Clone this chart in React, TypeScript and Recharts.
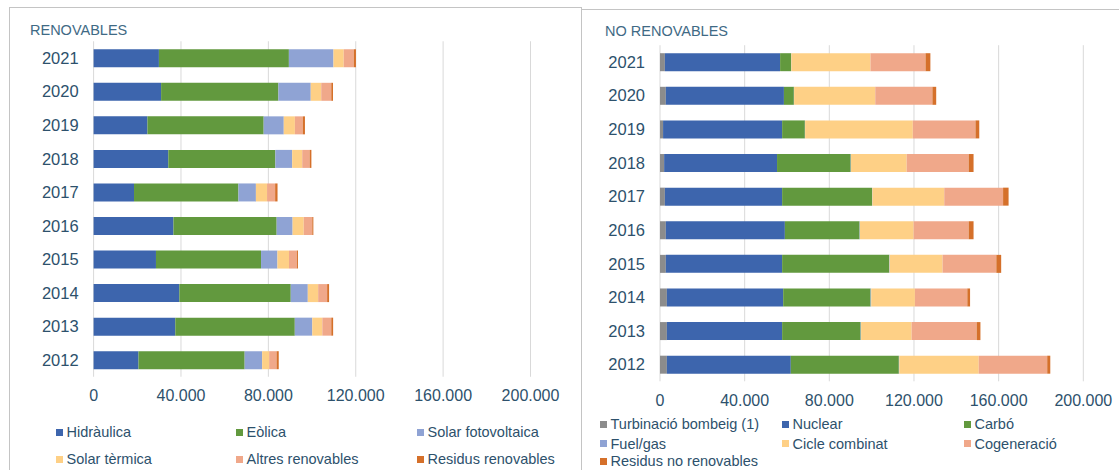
import { BarChart, Bar, XAxis, YAxis, CartesianGrid } from 'recharts';

// anys, de dalt a baix com al gràfic
const years = ['2021', '2020', '2019', '2018', '2017', '2016', '2015', '2014', '2013', '2012'];
const xTicks = [0, 40000, 80000, 120000, 160000, 200000];

// renovables (MWh aprox.)
const hidraulica = [29900, 30900, 24650, 34200, 18500, 36550, 28550, 39250, 37400, 20550];
const eolica = [59500, 53700, 53200, 49000, 47800, 47250, 48100, 51000, 54700, 48600];
const solarFV = [20400, 14800, 9200, 7700, 8000, 7300, 7500, 7800, 8000, 8000];
const solarTermica = [4700, 4800, 5100, 4600, 5100, 5100, 5300, 4750, 4600, 3200];
const altresRen = [4600, 4600, 3600, 3400, 3700, 3900, 3600, 4100, 4100, 3400];
const residusRen = [1000, 800, 1000, 800, 1100, 500, 500, 900, 850, 1000];

// no renovables
const turbinacio = [2300, 2750, 1450, 1950, 2300, 2750, 2750, 3250, 3250, 3250];
const nuclear = [54450, 55800, 56250, 53350, 55400, 56250, 54950, 54950, 54450, 58550];
const carbo = [5200, 4700, 10750, 34800, 42500, 35300, 50600, 41300, 37100, 51050];
const fuelGas = [100, 100, 100, 150, 150, 150, 200, 300, 200, 200];
const cicle = [37400, 38350, 50900, 26300, 33950, 25400, 25000, 20650, 23900, 37550];
const cogeneracio = [26000, 27000, 29600, 29300, 27800, 26000, 25400, 24750, 30700, 32350];
const residusNoRen = [2300, 1800, 1800, 2300, 2600, 2300, 2300, 1300, 1800, 1450];

const FONT = '"Liberation Sans", Arial, sans-serif';
const TEXT = '#2d516c';
const GRID = '#d9d9d9';

const renSeries = [
  { key: 'Hidràulica', values: hidraulica, color: '#3d65ad' },
  { key: 'Eòlica', values: eolica, color: '#62993e' },
  { key: 'Solar fotovoltaica', values: solarFV, color: '#8fa3d4' },
  { key: 'Solar tèrmica', values: solarTermica, color: '#fed086' },
  { key: 'Altres renovables', values: altresRen, color: '#f0a88a' },
  { key: 'Residus renovables', values: residusRen, color: '#d5702a' },
];

const noRenSeries = [
  { key: 'Turbinació bombeig (1)', values: turbinacio, color: '#8c8c8c' },
  { key: 'Nuclear', values: nuclear, color: '#3d65ad' },
  { key: 'Carbó', values: carbo, color: '#62993e' },
  { key: 'Fuel/gas', values: fuelGas, color: '#8fa3d4' },
  { key: 'Cicle combinat', values: cicle, color: '#fed086' },
  { key: 'Cogeneració', values: cogeneracio, color: '#f0a88a' },
  { key: 'Residus no renovables', values: residusNoRen, color: '#d5702a' },
];

const buildRows = (series: { key: string; values: number[] }[]) =>
  years.map((year, i) => {
    const row: Record<string, string | number> = { year };
    series.forEach((s) => (row[s.key] = s.values[i]));
    return row;
  });

const fmt = (v: number) => String(v).replace(/\B(?=(\d{3})+(?!\d))/g, '.');

interface PanelProps {
  series: { key: string; values: number[]; color: string }[];
  width: number;
  margin: { top: number; right: number; bottom: number; left: number };
  yWidth: number;
}

function Panel({ series, width, margin, yWidth }: PanelProps) {
  const data = buildRows(series);
  return (
    <BarChart width={width} height={470} data={data} layout="vertical" margin={margin} barSize={18}>
      <CartesianGrid horizontal={false} stroke={GRID} />
      <XAxis
        type="number"
        domain={[0, 200000]}
        ticks={xTicks}
        tickFormatter={fmt}
        axisLine={false}
        tickLine={false}
        tickSize={0}
        tickMargin={13}
        height={30}
        interval={0}
        tick={{ fill: TEXT, fontSize: 16, fontFamily: FONT }}
      />
      <YAxis
        type="category"
        dataKey="year"
        width={yWidth}
        axisLine={false}
        tickLine={false}
        tickSize={0}
        tickMargin={15}
        interval={0}
        tick={{ fill: TEXT, fontSize: 16.5, fontFamily: FONT }}
      />
      {series.map((s) => (
        <Bar key={s.key} dataKey={s.key} stackId="a" fill={s.color} isAnimationActive={false} />
      ))}
    </BarChart>
  );
}

function Legend({ series, left, top, cols }: { series: { key: string; color: string }[]; left: number[]; top: number[]; cols: number }) {
  return (
    <>
      {series.map((s, i) => {
        const x = left[i % cols];
        const y = top[Math.floor(i / cols)];
        return (
          <div
            key={s.key}
            style={{
              position: 'absolute',
              left: x,
              top: y - 8,
              height: 16,
              display: 'flex',
              alignItems: 'center',
              fontFamily: FONT,
              fontSize: 14.5,
              lineHeight: '16px',
              color: TEXT,
              whiteSpace: 'nowrap',
            }}
          >
            <span style={{ display: 'inline-block', width: 7, height: 7, background: s.color, marginRight: 3.5 }} />
            {s.key}
          </div>
        );
      })}
    </>
  );
}

export default function App() {
  return (
    <div style={{ position: 'absolute', left: 0, top: 0, width: 1119, height: 470, background: '#fff', overflow: 'hidden' }}>
      {/* marcs dels dos panells */}
      <div style={{ position: 'absolute', left: 9, top: 7, width: 571, height: 480, borderLeft: '1px solid #c4c4c4', borderTop: '1px solid #c4c4c4', borderRight: '1px solid #c4c4c4' }} />
      <div style={{ position: 'absolute', left: 581, top: 9, width: 560, height: 480, borderLeft: '1px solid #c4c4c4', borderTop: '1px solid #c4c4c4' }} />

      <div style={{ position: 'absolute', left: 30, top: 22, fontFamily: FONT, fontSize: 14.5, color: '#3f6a85' }}>RENOVABLES</div>
      <div style={{ position: 'absolute', left: 605, top: 23, fontFamily: FONT, fontSize: 14.5, color: '#3f6a85' }}>NO RENOVABLES</div>

      <div style={{ position: 'absolute', left: 0, top: 0 }}>
        <Panel series={renSeries} width={580} yWidth={93.6} margin={{ top: 41.25, right: 49.5, bottom: 63.25, left: 0 }} />
      </div>
      <div style={{ position: 'absolute', left: 580, top: 0 }}>
        <Panel series={noRenSeries} width={539} yWidth={80} margin={{ top: 45.2, right: 35.7, bottom: 58.7, left: 0 }} />
      </div>

      <Legend series={renSeries} cols={3} left={[56, 236, 417]} top={[432.3, 459.3]} />
      <Legend series={noRenSeries} cols={3} left={[600, 782, 964]} top={[424, 443.5, 461]} />
    </div>
  );
}
